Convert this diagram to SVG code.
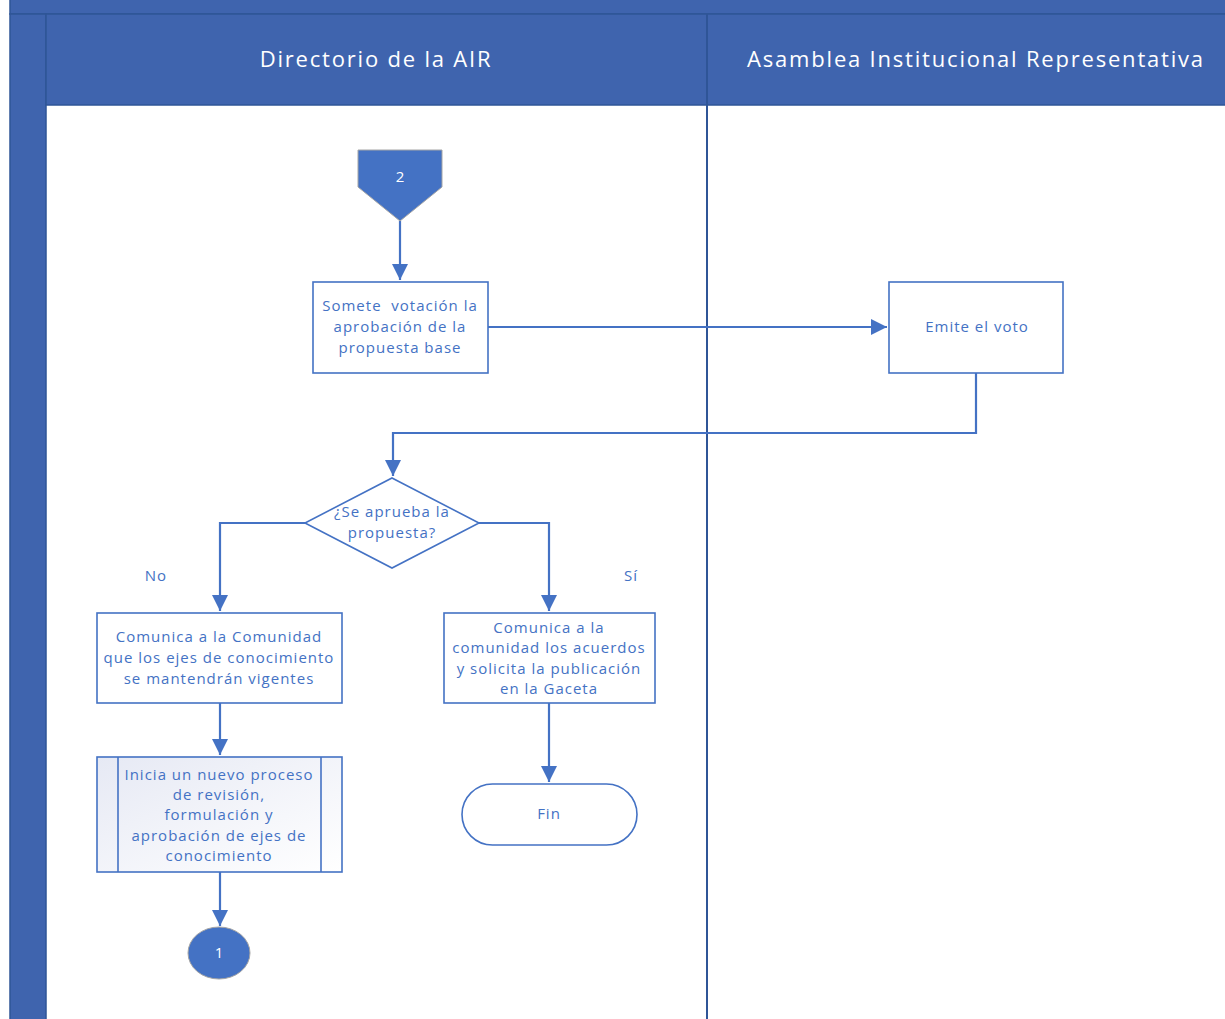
<svg xmlns="http://www.w3.org/2000/svg" width="1225" height="1019" viewBox="0 0 1225 1019">
<defs>
<style>
.band{fill:#3F64AE;stroke:#2F5597;stroke-width:1.5}
.hdr{fill:#fff;font-family:"Open Sans","Liberation Sans",sans-serif;font-size:22px;letter-spacing:1.8px;text-anchor:middle}
.box{fill:#fff;stroke:#4472C4;stroke-width:1.6}
.t{fill:#4472C4;font-family:"Open Sans","Liberation Sans",sans-serif;font-size:15px;letter-spacing:1px;text-anchor:middle}
.w{fill:#fff;font-family:"Open Sans","Liberation Sans",sans-serif;font-size:15px;text-anchor:middle}
.c{fill:none;stroke:#4472C4;stroke-width:2.2}
</style>
<marker id="ah" markerUnits="userSpaceOnUse" markerWidth="18" markerHeight="16" refX="16" refY="8" orient="auto">
<path d="M0,0 L16,8 L0,16 Z" fill="#4472C4"/>
</marker>
<linearGradient id="sg" x1="0" y1="0" x2="1" y2="1">
<stop offset="0" stop-color="#E6E9F4"/>
<stop offset="1" stop-color="#FFFFFF"/>
</linearGradient>
</defs>
<rect x="0" y="0" width="1225" height="1019" fill="#fff"/>
<g id="pool">
<rect class="band" x="10" y="-2" width="1217" height="16"/>
<rect class="band" x="10" y="14" width="36" height="1007"/>
<rect class="band" x="46" y="14" width="1181" height="91"/>
<line x1="707" y1="14" x2="707" y2="1019" stroke="#2F5597" stroke-width="2"/>
<text class="hdr" x="376" y="67">Directorio de la AIR</text>
<text class="hdr" x="976" y="67">Asamblea Institucional Representativa</text>
</g>
<g id="connectors">
<path class="c" d="M400,221 V280" marker-end="url(#ah)"/>
<path class="c" d="M488,327 H887" marker-end="url(#ah)"/>
<path class="c" d="M976,373 V433 H393 V476" marker-end="url(#ah)"/>
<path class="c" d="M305,523 H220 V611" marker-end="url(#ah)"/>
<path class="c" d="M479,523 H549 V611" marker-end="url(#ah)"/>
<path class="c" d="M549,703 V782" marker-end="url(#ah)"/>
<path class="c" d="M220,703 V755" marker-end="url(#ah)"/>
<path class="c" d="M220,872 V926" marker-end="url(#ah)"/>
<text class="t" x="156" y="581">No</text>
<text class="t" x="631" y="581">Sí</text>
</g>
<g id="n2">
<path d="M358,150 H442 V187 L400,221 L358,187 Z" fill="#4472C4" stroke="#A5A5A5" stroke-width="1"/>
<text class="w" x="400" y="182">2</text>
</g>
<g id="somete">
<rect class="box" x="313" y="282" width="175" height="91"/>
<text class="t" x="400" y="311" xml:space="preserve">Somete  votación la</text>
<text class="t" x="400" y="332">aprobación de la</text>
<text class="t" x="400" y="353">propuesta base</text>
</g>
<g id="emite">
<rect class="box" x="889" y="282" width="174" height="91"/>
<text class="t" x="977" y="332">Emite el voto</text>
</g>
<g id="decision">
<path class="box" d="M392,478 L479,523 L392,568 L305,523 Z"/>
<text class="t" x="392" y="517">¿Se aprueba la</text>
<text class="t" x="392" y="538">propuesta?</text>
</g>
<g id="comunicaNo">
<rect class="box" x="97" y="613" width="245" height="90"/>
<text class="t" x="219" y="642">Comunica a la Comunidad</text>
<text class="t" x="219" y="663">que los ejes de conocimiento</text>
<text class="t" x="219" y="684">se mantendrán vigentes</text>
</g>
<g id="comunicaSi">
<rect class="box" x="444" y="613" width="211" height="90"/>
<text class="t" x="549" y="633">Comunica a la</text>
<text class="t" x="549" y="653">comunidad los acuerdos</text>
<text class="t" x="549" y="674">y solicita la publicación</text>
<text class="t" x="549" y="694">en la Gaceta</text>
</g>
<g id="inicia">
<rect x="97" y="757" width="245" height="115" fill="url(#sg)" stroke="#4472C4" stroke-width="1.6"/>
<line x1="118" y1="757" x2="118" y2="872" stroke="#4472C4" stroke-width="1.6"/>
<line x1="321" y1="757" x2="321" y2="872" stroke="#4472C4" stroke-width="1.6"/>
<text class="t" x="219" y="780">Inicia un nuevo proceso</text>
<text class="t" x="219" y="800">de revisión,</text>
<text class="t" x="219" y="820">formulación y</text>
<text class="t" x="219" y="841">aprobación de ejes de</text>
<text class="t" x="219" y="861">conocimiento</text>
</g>
<g id="fin">
<rect class="box" x="462" y="784" width="175" height="61" rx="30.5" ry="30.5"/>
<text class="t" x="549" y="819">Fin</text>
</g>
<g id="n1">
<ellipse cx="219" cy="953" rx="31" ry="26" fill="#4472C4" stroke="#A5A5A5" stroke-width="1"/>
<text class="w" x="219" y="958">1</text>
</g>
</svg>
